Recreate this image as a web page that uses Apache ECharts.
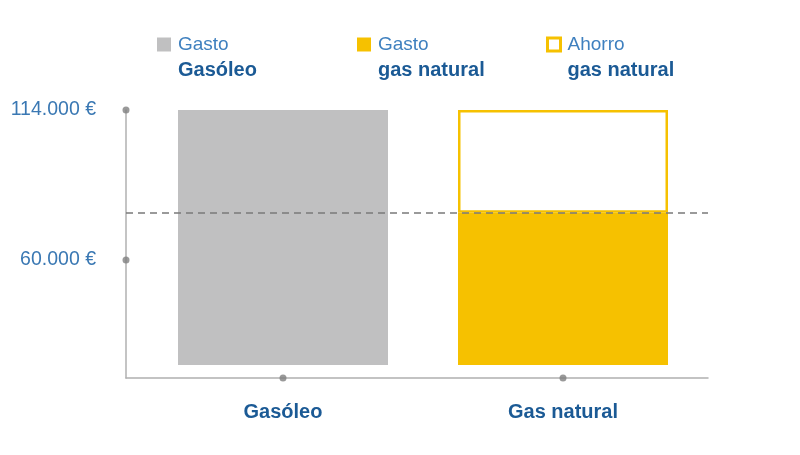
<!DOCTYPE html>
<html>
<head>
<meta charset="utf-8">
<script src="https://cdn.jsdelivr.net/npm/echarts@6/dist/echarts.min.js"></script>
<style>
  html, body { margin: 0; padding: 0; background: #fff; }
  #chart { width: 800px; height: 455px; }
</style>
</head>
<body>
<div id="chart"></div>
<script>
// ---- data ----
const categories = ['Gasóleo', 'Gas natural'];
const gastoGasoleo = [114000, null];
const gastoGasNatural = [null, 77000];
const ahorroGasNatural = [null, 37000];
const yTickValues = [60000, 114000];
const referenceLine = 77000;
const seriesNames = ['Gasto Gasóleo', 'Gasto gas natural', 'Ahorro gas natural'];
const legendLines = {
  'Gasto Gasóleo': ['Gasto', 'Gasóleo'],
  'Gasto gas natural': ['Gasto', 'gas natural'],
  'Ahorro gas natural': ['Ahorro', 'gas natural']
};

// ---- axis ranges ----
const Y_MAX = 114000;
const Y_FRAME_MIN = 17520;   // bottom of axis frame
const Y_BAR_MIN = 22200;     // where bars begin

const FONT = "'Liberation Sans', Arial, Helvetica, sans-serif";
const GRAY = '#c0c0c1';
const YELLOW = '#f6c100';
const DARK_BLUE = '#1b5a95';
const LIGHT_BLUE = '#3f80bf';

function fmt(v) {
  return String(v).replace(/\B(?=(\d{3})+(?!\d))/g, '.') + ' €';
}

function legendFor(name, left, iconStyle, size) {
  return {
    data: [name],
    left: left,
    top: 35,
    padding: 0,
    orient: 'horizontal',
    itemWidth: size || 14,
    itemHeight: size || 14,
    icon: 'rect',
    selectedMode: false,
    itemStyle: iconStyle,
    formatter: n => `{a|${legendLines[n][0]}}\n{b|${legendLines[n][1]}}`,
    textStyle: {
      padding: [26, 0, 0, 2],
      rich: {
        a: { fontFamily: FONT, fontSize: 19, lineHeight: 26, color: LIGHT_BLUE },
        b: { fontFamily: FONT, fontSize: 20, fontWeight: 'bold', lineHeight: 26, color: DARK_BLUE }
      }
    }
  };
}

const chart = echarts.init(document.getElementById('chart'), null, { renderer: 'canvas' });

const option = {
  animation: false,
  backgroundColor: '#fff',
  legend: [
    legendFor(seriesNames[0], 157, { color: GRAY, borderWidth: 0 }),
    legendFor(seriesNames[1], 357, { color: YELLOW, borderWidth: 0 }),
    legendFor(seriesNames[2], 546, { color: '#fff', borderColor: YELLOW, borderWidth: 3 }, 13)
  ],
  grid: [
    { left: 126, right: 92, top: 110, bottom: 77 },
    { left: 143, right: 97, top: 110, bottom: 90 }
  ],
  xAxis: [
    {
      gridIndex: 0, type: 'value', min: 0, max: 1,
      axisLine: { show: true, lineStyle: { color: '#b0b0b0', width: 1.5 } },
      axisTick: { show: false }, axisLabel: { show: false }, splitLine: { show: false }
    },
    {
      gridIndex: 1, type: 'category', data: categories,
      axisLine: { show: false }, axisTick: { show: false },
      axisLabel: { margin: 37, fontFamily: FONT, fontSize: 20, fontWeight: 'bold', color: DARK_BLUE }
    }
  ],
  yAxis: [
    {
      gridIndex: 0, type: 'value', min: Y_FRAME_MIN, max: Y_MAX,
      axisLine: { show: true, lineStyle: { color: '#b0b0b0', width: 1.5 } },
      axisTick: { show: false },
      splitLine: { show: false },
      axisLabel: {
        customValues: yTickValues,
        margin: 30,
        fontFamily: FONT, fontSize: 19.5, color: '#3a78b3',
        formatter: v => fmt(v)
      }
    },
    {
      gridIndex: 1, type: 'value', min: Y_BAR_MIN, max: Y_MAX, show: false,
      splitLine: { show: false }
    }
  ],
  series: [
    {
      name: seriesNames[0], type: 'bar', xAxisIndex: 1, yAxisIndex: 1, stack: 'total',
      barWidth: 210, data: gastoGasoleo, itemStyle: { color: GRAY }
    },
    {
      name: seriesNames[1], type: 'bar', xAxisIndex: 1, yAxisIndex: 1, stack: 'total',
      barWidth: 210, data: gastoGasNatural, itemStyle: { color: YELLOW }
    },
    {
      name: seriesNames[2], type: 'bar', xAxisIndex: 1, yAxisIndex: 1, stack: 'total',
      barWidth: 210, data: ahorroGasNatural, clip: false,
      itemStyle: { color: '#fff', borderColor: YELLOW, borderWidth: 2.5 }
    },
    {
      name: 'axisDotsY', type: 'scatter', xAxisIndex: 0, yAxisIndex: 0, clip: false,
      symbol: 'circle', symbolSize: 7, itemStyle: { color: '#7f7f7f' }, z: 5,
      data: yTickValues.map(v => [0, v]),
      markLine: {
        silent: true, symbol: 'none', label: { show: false },
        lineStyle: { color: '#7a7a7a', type: [7, 5], width: 1.5 },
        data: [{ yAxis: referenceLine }]
      }
    },
    {
      name: 'axisDotsX', type: 'scatter', xAxisIndex: 1, yAxisIndex: 1, clip: false,
      symbol: 'circle', symbolSize: 7, itemStyle: { color: '#7f7f7f' }, z: 5,
      data: categories.map(c => [c, Y_FRAME_MIN])
    }
  ]
};

chart.setOption(option);
</script>
</body>
</html>
